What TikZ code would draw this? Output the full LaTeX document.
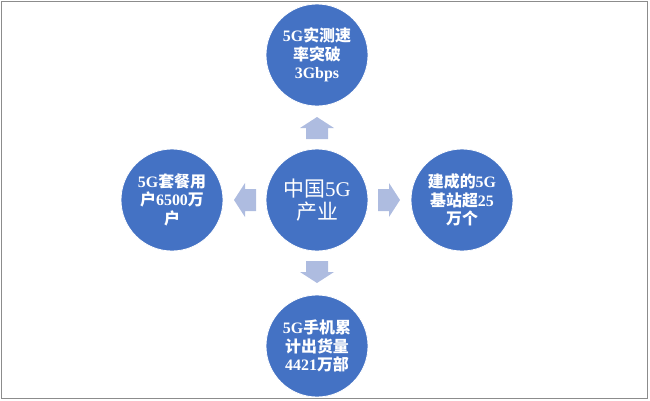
\documentclass[tikz,border=0pt]{standalone}
\usepackage{fontspec}
\setmainfont{Liberation Serif}
\newfontfamily\cjk{Noto Sans CJK SC}
\usepackage{tikz}

\definecolor{bubble}{RGB}{68,114,196}
\definecolor{arrowblue}{RGB}{174,188,224}
\definecolor{frame}{RGB}{140,140,140}

\tikzset{
  bubble/.style={circle, fill=bubble, draw=white, line width=0.8bp, minimum size=102bp,
    inner sep=0pt, text=white, align=center},
  fact/.style={bubble, font=\fontsize{16}{18.5}\selectfont\bfseries},
  arrowfill/.style={fill=arrowblue}
}

\begin{document}
\begin{tikzpicture}[x=1bp,y=-1bp]
        \useasboundingbox (0,0) rectangle (650,400);
        % Frame
        \draw[frame, line width=1.5bp] (1.5,1.5) rectangle (647.5,398.5);

        % Centre
        \node[bubble, font=\fontsize{21}{23}\selectfont] (core) at (317,200)
            {{\cjk 中国}5G\\{\cjk 产业}};

        % Facts round it
        \node[fact] (speed) at (317,55) {5G{\cjk 实测速}\\{\cjk 率突破}\\3Gbps};
        \node[fact] (users) at (172,200) {5G{\cjk 套餐用}\\{\cjk 户}6500{\cjk 万}\\{\cjk 户}};
        \node[fact] (stations) at (462,200) {{\cjk 建成的}5G\\{\cjk 基站超}25\\{\cjk 万个}};
        \node[fact] (phones) at (317,346) {5G{\cjk 手机累}\\{\cjk 计出货量}\\4421{\cjk 万部}};

        % Block arrows
        \foreach \ang in {0,90,180,270}
            \fill[arrowfill, shift={(core)}, rotate=\ang]
                (61,-11) -- (72,-11) -- (72,-17) -- (83,0) -- (72,17) -- (72,11) -- (61,11) -- cycle;
    \end{tikzpicture}
\end{document}
